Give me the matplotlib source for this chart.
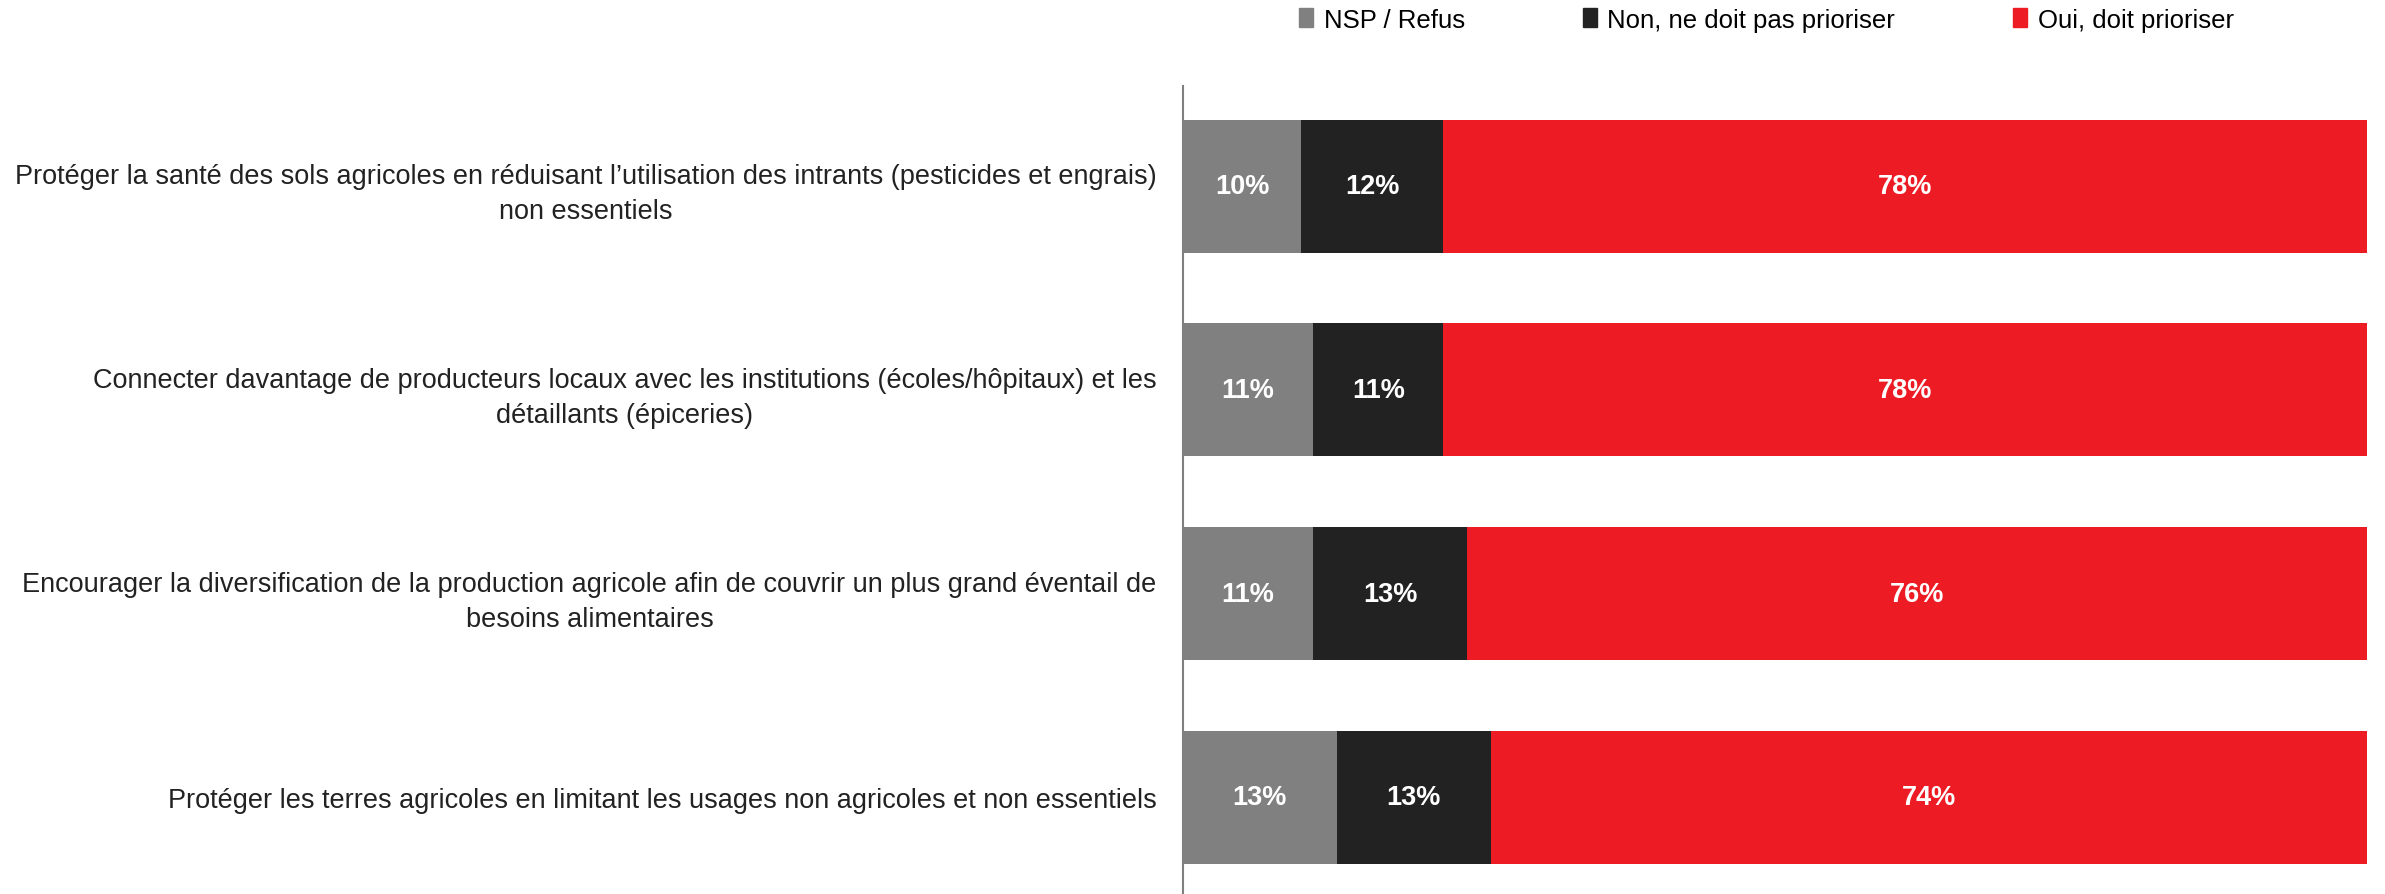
import matplotlib
matplotlib.use("Agg")
import matplotlib.pyplot as plt
from matplotlib.patches import Patch

categories = [
    "Protéger la santé des sols agricoles en réduisant l’utilisation des intrants (pesticides et engrais)\nnon essentiels",
    "Connecter davantage de producteurs locaux avec les institutions (écoles/hôpitaux) et les\ndétaillants (épiceries)",
    "Encourager la diversification de la production agricole afin de couvrir un plus grand éventail de\nbesoins alimentaires",
    "Protéger les terres agricoles en limitant les usages non agricoles et non essentiels",
]
series_names = ["NSP / Refus", "Non, ne doit pas prioriser", "Oui, doit prioriser"]
nsp = [10, 11, 11, 13]
non = [12, 11, 13, 13]
oui = [78, 78, 76, 74]
colors = ["#808080", "#222222", "#ED1C24"]

label_font = ["Liberation Sans", "DejaVu Sans"]

fig = plt.figure(figsize=(23.85, 8.95), dpi=100)
ax = fig.add_axes([0.496, 0.0, 0.4965, 0.903])

y = list(range(len(categories)))
left = [0] * len(categories)
for vals, name, col in zip([nsp, non, oui], series_names, colors):
    bars = ax.barh(y, vals, left=left, height=0.653, color=col, label=name, edgecolor="none")
    for b, v in zip(bars, vals):
        ax.text(b.get_x() + b.get_width() / 2, b.get_y() + b.get_height() / 2, f"{v}%",
                ha="center", va="center", color="white", fontsize=19.5, fontweight="bold",
                family=["Liberation Sans", "DejaVu Sans"])
    left = [l + v for l, v in zip(left, vals)]

ax.set_xlim(0, 100)
ax.set_ylim(3.474, -0.493)
ax.set_yticks(y)
ax.set_yticklabels(categories, fontsize=19.5, family=label_font, multialignment="center",
                   color="#222222", linespacing=1.45)
ax.tick_params(axis="y", length=0, pad=19)
ax.set_xticks([])
for s in ["top", "right", "bottom"]:
    ax.spines[s].set_visible(False)
ax.spines["left"].set_color("#7f7f7f")
ax.spines["left"].set_linewidth(1.5)

handles = [Patch(color=c, label=n) for c, n in zip(colors, series_names)]
leg = fig.legend(handles=handles, loc="center left", bbox_to_anchor=(0.535, 0.977), ncol=3,
                 frameon=False, prop={"family": label_font, "size": 18.5},
                 handlelength=0.55, handleheight=0.75, handletextpad=0.4, columnspacing=4.6)

fig.savefig("out.png", dpi=100)
